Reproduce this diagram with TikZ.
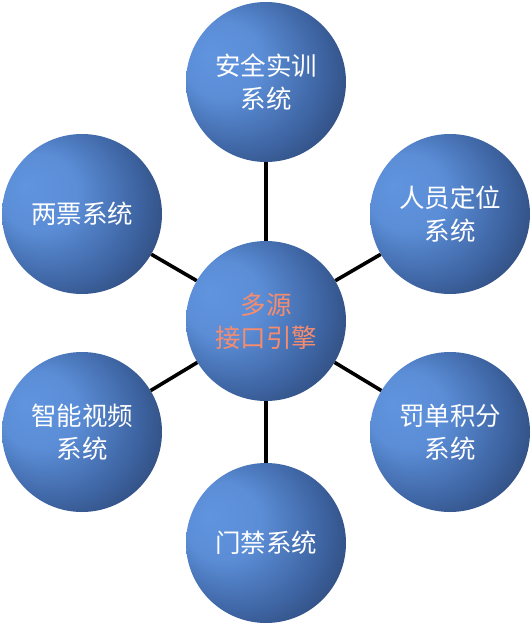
\documentclass[tikz,border=0pt]{standalone}
\usepackage{fontspec}
\setmainfont{Noto Sans CJK SC}
\definecolor{ballA}{RGB}{96,148,222}
\definecolor{ballB}{RGB}{72,116,186}
\definecolor{ballC}{RGB}{50,82,135}
\definecolor{ballD}{RGB}{32,48,82}
\definecolor{coreText}{RGB}{246,140,110}
\pgfdeclareradialshading{ballshade}{\pgfpoint{-18bp}{9bp}}{color(0bp)=(ballA); color(12bp)=(ballA!80!ballB); color(26bp)=(ballB!55!ballC); color(38bp)=(ballC!50!ballD); color(45bp)=(ballD); color(50bp)=(ballD)}
\tikzset{
  ball/.style={circle, minimum size=160pt, inner sep=0pt, shading=ballshade, text=white, font=\fontsize{25.5}{33}\selectfont, align=center},
  link/.style={line width=3.6pt, black}
}
\begin{document}
\begin{tikzpicture}[x=1pt,y=-1pt]
\useasboundingbox (0,0) rectangle (532,626);
\node[ball] (core) at (266,321) {\textcolor{coreText}{多源}\\\textcolor{coreText}{接口引擎}};
\node[ball] (train) at (266,82) {安全实训\\系统};
\node[ball] (ticket) at (82,214) {两票系统};
\node[ball] (locate) at (450,214) {人员定位\\系统};
\node[ball] (video) at (82,432) {智能视频\\系统};
\node[ball] (score) at (450,432) {罚单积分\\系统};
\node[ball] (door) at (266,543) {门禁系统};
\draw[link] (core) -- (train);
\draw[link] (core) -- (ticket);
\draw[link] (core) -- (locate);
\draw[link] (core) -- (video);
\draw[link] (core) -- (score);
\draw[link] (core) -- (door);
\end{tikzpicture}
\end{document}
